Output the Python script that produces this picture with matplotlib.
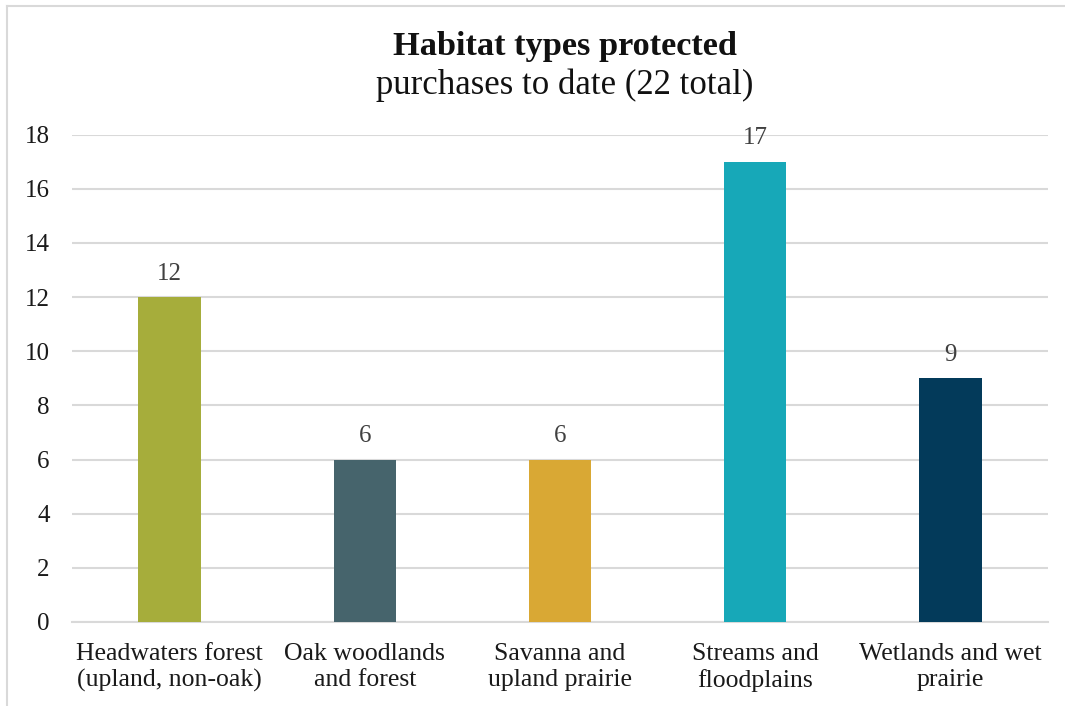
import matplotlib.pyplot as plt
from matplotlib.lines import Line2D

# data
categories = ["Headwaters forest\n(upland, non-oak)", "Oak woodlands\nand forest",
              "Savanna and\nupland prairie", "Streams and\nfloodplains",
              "Wetlands and wet\nprairie"]
counts = [12, 6, 6, 17, 9]
bar_colors = ["#a6ad3b", "#46646c", "#d9a834", "#17a8b8", "#033a5a"]
y_ticks = list(range(0, 20, 2))

plt.rcParams['font.family'] = ['Liberation Serif', 'DejaVu Serif']

W, H = 1065, 706
fig = plt.figure(figsize=(W / 100, H / 100), dpi=100)
ax = fig.add_axes([72 / W, (H - 622) / H, (1048 - 72) / W, (622 - 134.5) / H])

x = list(range(len(categories)))
ax.bar(x, counts, width=0.32, color=bar_colors, zorder=3)
for xi, v in zip(x, counts):
    ax.annotate(str(v), (xi, v), xytext=(0, 9), textcoords='offset points',
                ha='center', va='bottom', fontsize=18, color='#404040')

ax.set_xlim(-0.5, len(categories) - 0.5)
ax.set_ylim(0, 18)
ax.set_yticks(y_ticks)
ax.set_xticks(x)
ax.set_xticklabels(categories, fontsize=18.5, linespacing=1.24)
ax.tick_params(axis='y', length=0, pad=16, labelsize=18, labelcolor='#1a1a1a')
ax.tick_params(axis='x', length=0, pad=15, labelcolor='#1a1a1a')
ax.grid(axis='y', color='#d9d9d9', linewidth=1.5, zorder=0)
for s in ['top', 'right', 'left']:
    ax.spines[s].set_visible(False)
ax.spines['bottom'].set_color('#d9d9d9')
ax.spines['bottom'].set_linewidth(1.5)

fig.text(564.5 / W, 1 - 47 / H, "Habitat types protected", ha='center', va='center',
         fontsize=24.7, fontweight='bold', color='#111111')
fig.text(564.5 / W, 1 - 85 / H, "purchases to date (22 total)", ha='center', va='center',
         fontsize=25, color='#111111')

# chart frame (only top and left edges visible)
fig.add_artist(Line2D([7 / W, 1], [1 - 6 / H, 1 - 6 / H], transform=fig.transFigure,
                      color='#d9d9d9', linewidth=1.5))
fig.add_artist(Line2D([7 / W, 7 / W], [0, 1 - 6 / H], transform=fig.transFigure,
                      color='#d9d9d9', linewidth=1.5))

fig.savefig("out.png", dpi=100, facecolor='white')
